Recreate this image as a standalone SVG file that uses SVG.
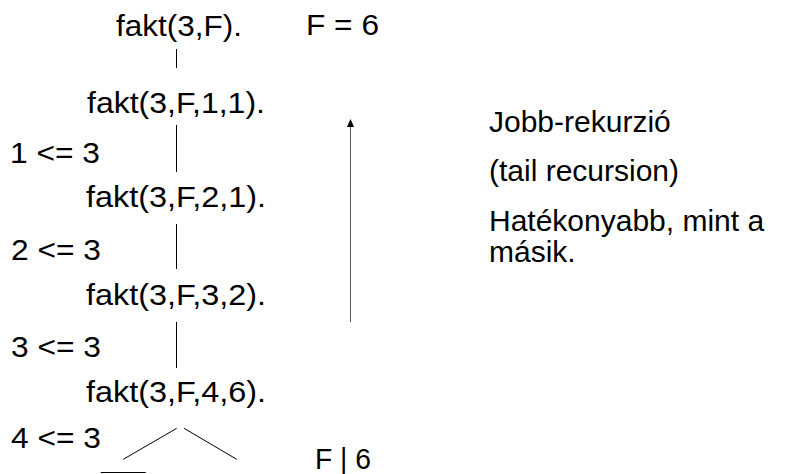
<svg xmlns="http://www.w3.org/2000/svg" width="787" height="474" viewBox="0 0 787 474">
<style>
text{font-family:"Liberation Sans",Arial,sans-serif;fill:#000}
.l{font-size:29px}
.r{font-size:30px}
.c{stroke:#000;stroke-width:1;fill:none}
.a{stroke:#555;stroke-width:1;fill:none}
</style>
<rect width="787" height="474" fill="#fff"/>
<g id="goal"><text class="l" x="116" y="36" textLength="126" lengthAdjust="spacingAndGlyphs">fakt(3,F).</text></g>
<g id="result"><text class="l" x="306" y="35" textLength="73" lengthAdjust="spacingAndGlyphs">F = 6</text></g>
<g id="call1"><text class="l" x="87" y="112.7" textLength="178" lengthAdjust="spacingAndGlyphs">fakt(3,F,1,1).</text></g>
<g id="cond1"><text class="l" x="10" y="162.7" textLength="90" lengthAdjust="spacingAndGlyphs">1 &lt;= 3</text></g>
<g id="call2"><text class="l" x="86" y="206.7" textLength="180" lengthAdjust="spacingAndGlyphs">fakt(3,F,2,1).</text></g>
<g id="cond2"><text class="l" x="11" y="260" textLength="90" lengthAdjust="spacingAndGlyphs">2 &lt;= 3</text></g>
<g id="call3"><text class="l" x="86" y="305" textLength="180" lengthAdjust="spacingAndGlyphs">fakt(3,F,3,2).</text></g>
<g id="cond3"><text class="l" x="11" y="356.7" textLength="90" lengthAdjust="spacingAndGlyphs">3 &lt;= 3</text></g>
<g id="call4"><text class="l" x="86" y="401.7" textLength="180" lengthAdjust="spacingAndGlyphs">fakt(3,F,4,6).</text></g>
<g id="cond4"><text class="l" x="11" y="448.3" textLength="90" lengthAdjust="spacingAndGlyphs">4 &lt;= 3</text></g>
<g id="binding"><text class="l" x="315" y="469" textLength="56" lengthAdjust="spacingAndGlyphs">F | 6</text></g>
<g id="note">
<text class="r" x="489" y="131.7">Jobb-rekurzió</text>
<text class="r" x="489" y="181">(tail recursion)</text>
<text class="r" x="489" y="231">Hatékonyabb, mint a</text>
<text class="r" x="489" y="262">másik.</text>
</g>
<g id="connectors">
<line class="c" x1="176.5" y1="49" x2="176.5" y2="68"/>
<line class="c" x1="176.5" y1="125" x2="176.5" y2="172"/>
<line class="c" x1="176.5" y1="224" x2="176.5" y2="269"/>
<line class="c" x1="176.5" y1="322" x2="176.5" y2="368"/>
<line class="c" x1="176.7" y1="428.3" x2="123.3" y2="459.3"/>
<line class="c" x1="184" y1="428.3" x2="236.7" y2="459.3"/>
<line class="c" x1="100.7" y1="472.5" x2="145.7" y2="472.5"/>
<line class="a" x1="350.5" y1="322" x2="350.5" y2="126"/>
<polygon points="350.5,119 347,127 354,127" fill="#000"/>
</g>
</svg>
